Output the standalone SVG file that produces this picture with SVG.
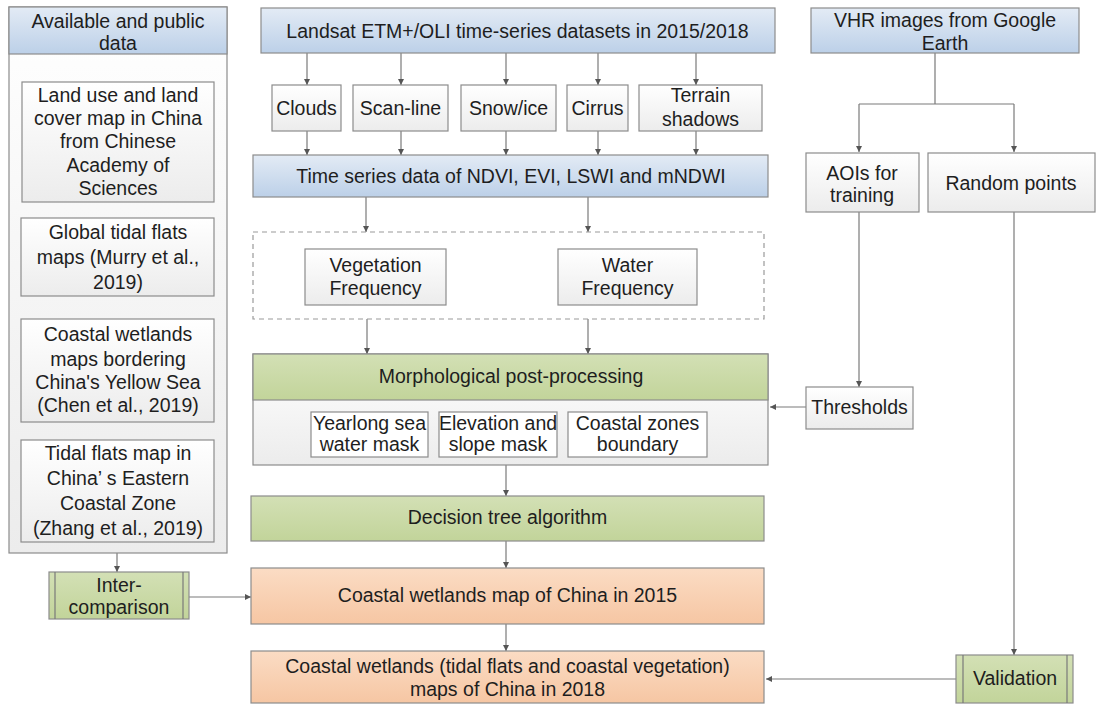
<svg xmlns="http://www.w3.org/2000/svg" width="1100" height="707" viewBox="0 0 1100 707">
<defs>
<linearGradient id="gBlue" x1="0" y1="0" x2="0" y2="1"><stop offset="0" stop-color="#e3ebf5"/><stop offset="1" stop-color="#bcd0e8"/></linearGradient>
<linearGradient id="gGray" x1="0" y1="0" x2="0" y2="1"><stop offset="0" stop-color="#ffffff"/><stop offset="1" stop-color="#ececec"/></linearGradient>
<linearGradient id="gGreen" x1="0" y1="0" x2="0" y2="1"><stop offset="0" stop-color="#d3e0b5"/><stop offset="1" stop-color="#c2d49a"/></linearGradient>
<linearGradient id="gOrange" x1="0" y1="0" x2="0" y2="1"><stop offset="0" stop-color="#fbdcc4"/><stop offset="1" stop-color="#f6c6a3"/></linearGradient>
<marker id="ah" viewBox="0 0 8 8" refX="8" refY="4" markerWidth="6" markerHeight="6" orient="auto" markerUnits="userSpaceOnUse"><path d="M0,0 L8,4 L0,8 z" fill="#555"/></marker>
</defs>
<style>
text{font-family:"Liberation Sans",Arial,sans-serif;font-size:19.5px;fill:#1e1e1e;text-anchor:middle}
.bx{stroke:#8c8c8c;stroke-width:1.2}
.blue{fill:url(#gBlue)}
.gray{fill:url(#gGray)}
.green{fill:url(#gGreen)}
.orange{fill:url(#gOrange)}
.ln{fill:none;stroke:#7a7a7a;stroke-width:1.2}
.ar{marker-end:url(#ah)}
</style>
<rect width="1100" height="707" fill="#ffffff"/>

<g id="connectors">
<path class="ln ar" d="M307,53 V85"/>
<path class="ln ar" d="M401,53 V85"/>
<path class="ln ar" d="M506,53 V85"/>
<path class="ln ar" d="M598,53 V85"/>
<path class="ln ar" d="M696,53 V85"/>
<path class="ln ar" d="M307,131 V155"/>
<path class="ln ar" d="M401,131 V155"/>
<path class="ln ar" d="M506,131 V155"/>
<path class="ln ar" d="M598,131 V155"/>
<path class="ln ar" d="M696,131 V155"/>
<path class="ln ar" d="M366,197 V232"/>
<path class="ln ar" d="M588,197 V232"/>
<path class="ln ar" d="M367,319 V354"/>
<path class="ln ar" d="M588,319 V354"/>
<path class="ln ar" d="M506,465 V496"/>
<path class="ln ar" d="M506,541 V568"/>
<path class="ln ar" d="M506,624 V651"/>
<path class="ln ar" d="M117,553 V572"/>
<path class="ln ar" d="M189,597 H251"/>
<path class="ln" d="M935,53 V104 M859,104 H1014"/>
<path class="ln ar" d="M859,104 V152"/>
<path class="ln ar" d="M1014,104 V152"/>
<path class="ln ar" d="M859,212 V387"/>
<path class="ln ar" d="M806,407 H770"/>
<path class="ln ar" d="M1014,212 V655"/>
<path class="ln ar" d="M956,679 H766"/>
</g>

<g id="panel-available">
<rect class="bx gray" x="9" y="7" width="218" height="546"/>
<rect class="bx blue" x="9" y="7" width="218" height="47"/>
<text x="118" y="27.5">Available and public</text>
<text x="118" y="49.5">data</text>
</g>
<g id="node-landuse">
<rect class="bx gray" x="22" y="82" width="192" height="120"/>
<text x="118" y="101.5">Land use and land</text>
<text x="118" y="124.5">cover map in China</text>
<text x="118" y="148">from Chinese</text>
<text x="118" y="171.5">Academy of</text>
<text x="118" y="194.5">Sciences</text>
</g>
<g id="node-global">
<rect class="bx gray" x="21" y="218" width="193" height="78"/>
<text x="118" y="238.5">Global tidal flats</text>
<text x="118" y="263.5">maps (Murry et al.,</text>
<text x="118" y="288.5">2019)</text>
</g>
<g id="node-yellowsea">
<rect class="bx gray" x="21" y="319" width="193" height="103"/>
<text x="118" y="341">Coastal wetlands</text>
<text x="118" y="365.5">maps bordering</text>
<text x="118" y="388.5">China's Yellow Sea</text>
<text x="118" y="411.5">(Chen et al., 2019)</text>
</g>
<g id="node-eastern">
<rect class="bx gray" x="21" y="440" width="193" height="102"/>
<text x="118" y="459.5">Tidal flats map in</text>
<text x="118" y="484.5">China’ s Eastern</text>
<text x="118" y="509.5">Coastal Zone</text>
<text x="118" y="534.5">(Zhang et al., 2019)</text>
</g>
<g id="node-intercomparison">
<rect class="bx green" x="49" y="572" width="140" height="47"/>
<path class="ln" d="M55,572 V619 M183,572 V619"/>
<text x="119" y="591.5">Inter-</text>
<text x="119" y="613.5">comparison</text>
</g>

<g id="node-landsat">
<rect class="bx blue" x="261" y="8" width="514" height="45"/>
<text x="517.5" y="37.5">Landsat ETM+/OLI time-series datasets in 2015/2018</text>
</g>
<g id="node-clouds">
<rect class="bx gray" x="272" y="85" width="69" height="46"/>
<text x="306.5" y="115">Clouds</text>
</g>
<g id="node-scanline">
<rect class="bx gray" x="353" y="85" width="95" height="46"/>
<text x="400.5" y="115">Scan-line</text>
</g>
<g id="node-snow">
<rect class="bx gray" x="461" y="85" width="95" height="46"/>
<text x="508.5" y="115">Snow/ice</text>
</g>
<g id="node-cirrus">
<rect class="bx gray" x="567" y="85" width="61" height="46"/>
<text x="597.5" y="115">Cirrus</text>
</g>
<g id="node-terrain">
<rect class="bx gray" x="639" y="85" width="123" height="46"/>
<text x="700.5" y="102">Terrain</text>
<text x="700.5" y="126">shadows</text>
</g>
<g id="node-timeseries">
<rect class="bx blue" x="253" y="155" width="515" height="42"/>
<text x="511" y="183">Time series data of NDVI, EVI, LSWI and mNDWI</text>
</g>
<g id="node-frequency">
<rect x="253" y="232" width="511" height="87" fill="none" stroke="#9a9a9a" stroke-width="1.2" stroke-dasharray="5,4"/>
</g>
<g id="node-vegetation">
<rect class="bx gray" x="305" y="249" width="141" height="56"/>
<text x="375.5" y="272">Vegetation</text>
<text x="375.5" y="295">Frequency</text>
</g>
<g id="node-water">
<rect class="bx gray" x="558" y="249" width="139" height="56"/>
<text x="627.5" y="272">Water</text>
<text x="627.5" y="295">Frequency</text>
</g>
<g id="node-morph">
<rect class="bx gray" x="253" y="354" width="515" height="111"/>
<rect class="bx green" x="253" y="354" width="515" height="46"/>
<text x="511" y="383">Morphological post-processing</text>
</g>
<g id="node-yearlong">
<rect class="bx" fill="#ffffff" x="311" y="412" width="117" height="45"/>
<text x="369.5" y="430">Yearlong sea</text>
<text x="369.5" y="451">water mask</text>
</g>
<g id="node-elevation">
<rect class="bx" fill="#ffffff" x="439" y="412" width="118" height="45"/>
<text x="498" y="430">Elevation and</text>
<text x="498" y="451">slope mask</text>
</g>
<g id="node-coastalzones">
<rect class="bx" fill="#ffffff" x="568" y="412" width="139" height="45"/>
<text x="637.5" y="430">Coastal zones</text>
<text x="637.5" y="451">boundary</text>
</g>
<g id="node-decision">
<rect class="bx green" x="251" y="496" width="513" height="45"/>
<text x="507.5" y="524">Decision tree algorithm</text>
</g>
<g id="node-map2015">
<rect class="bx orange" x="251" y="568" width="513" height="56"/>
<text x="507.5" y="602">Coastal wetlands map of China in 2015</text>
</g>
<g id="node-map2018">
<rect class="bx orange" x="251" y="651" width="513" height="52"/>
<text x="507.5" y="673">Coastal wetlands (tidal flats and coastal vegetation)</text>
<text x="507.5" y="696">maps of China in 2018</text>
</g>

<g id="node-vhr">
<rect class="bx blue" x="811" y="8" width="268" height="45"/>
<text x="945" y="26.5">VHR images from Google</text>
<text x="945" y="49.5">Earth</text>
</g>
<g id="node-aois">
<rect class="bx gray" x="806" y="153" width="113" height="59"/>
<text x="862" y="179.5">AOIs for</text>
<text x="862" y="201.5">training</text>
</g>
<g id="node-random">
<rect class="bx gray" x="928" y="153" width="167" height="59"/>
<text x="1011" y="189.5">Random points</text>
</g>
<g id="node-thresholds">
<rect class="bx gray" x="806" y="387" width="107" height="42"/>
<text x="859.5" y="414">Thresholds</text>
</g>
<g id="node-validation">
<rect class="bx green" x="956" y="655" width="117" height="48"/>
<path class="ln" d="M963,655 V703 M1067,655 V703"/>
<text x="1015" y="685">Validation</text>
</g>
</svg>
